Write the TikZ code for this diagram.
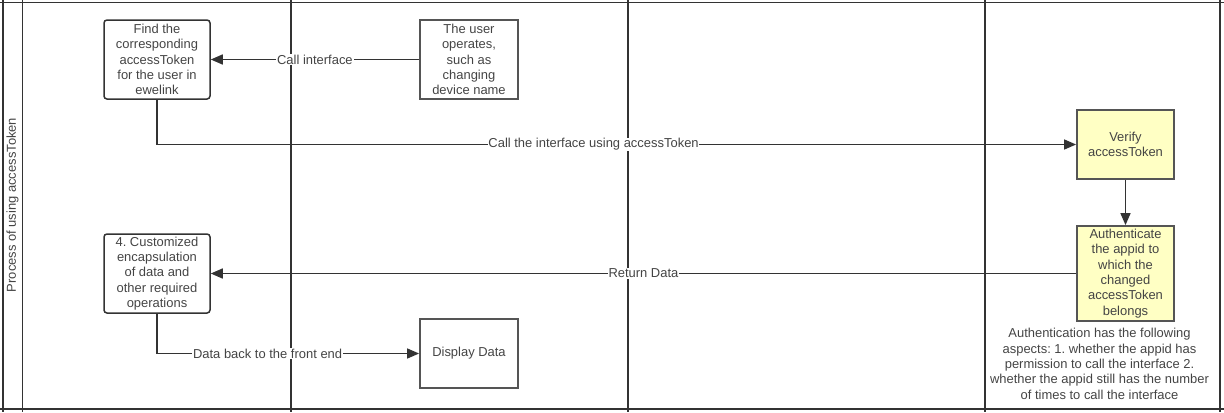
\documentclass[tikz,border=0pt]{standalone}
\usepackage{fontspec}
\setmainfont{Liberation Sans}
\usetikzlibrary{arrows.meta}
\definecolor{ln}{HTML}{333333}
\definecolor{tx}{HTML}{444444}
\definecolor{yel}{HTML}{FFFFC4}
\definecolor{bx}{HTML}{555555}
\frenchspacing
\begin{document}
\begin{tikzpicture}[x=1bp,y=-1bp,
  font=\fontsize{13}{15.4}\selectfont, text=tx,
  every node/.style={inner sep=0pt},
  procbox/.style={draw=ln, line width=1.5bp, rounded corners=3bp, minimum width=106bp, minimum height=79bp, align=center},
  plainbox/.style={draw=bx, line width=1.8bp, minimum width=98bp, minimum height=79bp, align=center},
  yelbox/.style={draw=bx, line width=1.8bp, fill=yel, minimum width=97bp, align=center},
  conn/.style={draw=ln, line width=1.5bp, -{Triangle[length=12bp,width=10bp]}},
  lbl/.style={fill=white, inner sep=0.8bp},
  lane/.style={draw=ln, line width=1.6bp}]
\useasboundingbox (0,0) rectangle (1224,412);
% swimlane frame
\draw[lane] (0,2.5) -- (1224,2.5);
\draw[lane] (0,409) -- (1224,409);
\foreach \xx in {3,22.5,291,628,985,1220}{
  \draw[lane] (\xx,0) -- (\xx,412);
}
\node[rotate=90] (title) at (12.5,205) {Process of using accessToken};
% nodes
\node[procbox] (find) at (157,59.5) {Find the\\corresponding\\accessToken\\for the user in\\ewelink};
\node[plainbox] (user) at (469,59.5) {The user\\operates,\\such as\\changing\\device name};
\node[yelbox, minimum height=69bp] (verify) at (1125.5,144.5) {Verify\\accessToken};
\node[yelbox, minimum height=95bp] (auth) at (1125.5,273.5) {Authenticate\\the appid to\\which the\\changed\\accessToken\\belongs};
\node[procbox] (cust) at (157,273.5) {4. Customized\\encapsulation\\of data and\\other required\\operations};
\node[plainbox, minimum height=69bp] (disp) at (469,353.5) {Display Data};
\node[align=center] (note) at (1099.5,364) {Authentication has the following\\aspects: 1. whether the appid has\\permission to call the interface 2.\\whether the appid still has the number\\of times to call the interface};
% connectors
\draw[conn] (user.west) -- node[lbl, pos=0.5] {Call interface} (find.east);
\draw[conn] (find.south) |- node[lbl, pos=0.7375] {Call the interface using accessToken} (verify.west);
\draw[conn] (verify.south) -- (auth.north);
\draw[conn] (auth.west) -- node[lbl, pos=0.5] {Return Data} (cust.east);
\draw[conn] (cust.south) |- node[lbl, pos=0.711] {Data back to the front end} (disp.west);
\end{tikzpicture}
\end{document}
